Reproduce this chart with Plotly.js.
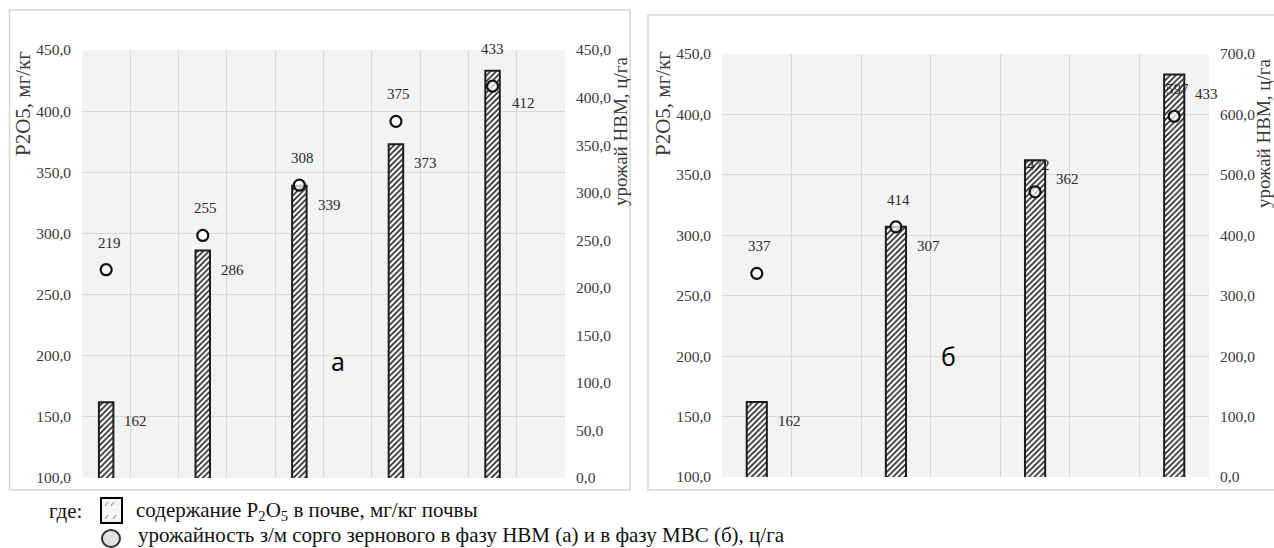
<!DOCTYPE html>
<html>
<head>
<meta charset="utf-8">
<script src="https://cdn.plot.ly/plotly-3.0.1.min.js"></script>
<style>
html,body{margin:0;padding:0;background:#fff;}
#chart{width:1274px;height:548px;}
</style>
</head>
<body>
<div id="chart"></div>
<script>
// ---- data ----
const catsA = [0, 1, 2, 3, 4];
const p2o5A = [162, 286, 339, 373, 433];
const yieldA = [219, 255, 308, 375, 412];

const catsB = [0, 1, 2, 3];
const p2o5B = [162, 307, 362, 433];
const yieldB = [337, 414, 472, 597];

const leftTitle = 'P2O5, мг/кг';
const rightTitle = 'урожай НВМ, ц/га';
const legendBar = 'содержание P<sub>2</sub>O<sub>5</sub> в почве, мг/кг почвы';
const legendDot = 'урожайность з/м сорго зернового в фазу НВМ (а) и в фазу МВС (б), ц/га';

// ---- geometry helpers ----
const W = 1274, H = 548;
const px = v => v / W;
const py = v => 1 - v / H;

const serif = 'Liberation Serif';
const tickFont = {family: serif, size: 15.5, color: '#3a3a3a'};
const lblFont = {family: serif, size: 15, color: '#2a2a2a'};
const gridC = '#d9d9d9';
const BW = 0.15;

function barTrace(x, y, xa, ya, bw) {
  return {
    type: 'bar', x: x, y: y, xaxis: xa, yaxis: ya, width: bw, base: 0,
    marker: {color: '#ffffff', line: {color: '#1e1e1e', width: 2},
      pattern: {shape: '/', fgcolor: '#222', bgcolor: '#ffffff', size: 4, solidity: 0.4}},
    showlegend: false, hoverinfo: 'skip'
  };
}
function dotTrace(x, y, xa, ya) {
  return {
    type: 'scatter', mode: 'markers', x: x, y: y, xaxis: xa, yaxis: ya,
    marker: {symbol: 'circle', size: 11, color: 'rgba(255,255,255,0.7)', line: {color: '#111', width: 2.2}},
    showlegend: false, hoverinfo: 'skip'
  };
}

const data = [
  barTrace(catsA, p2o5A, 'x', 'y', BW),
  dotTrace(catsA, yieldA, 'x', 'y2'),
  barTrace(catsB, p2o5B, 'x2', 'y3', 0.145),
  dotTrace(catsB, yieldB, 'x2', 'y4')
];

const annotations = [];
function addLabels(cats, bars, dots, xr, ybr, ydr, bw, swapLast) {
  cats.forEach((c, i) => {
    const swap = swapLast && i === cats.length - 1;
    if (!swap) {
      annotations.push({xref: xr, yref: ydr, x: c, y: dots[i], text: String(dots[i]),
        showarrow: false, xanchor: 'center', yanchor: 'middle', yshift: 27, xshift: 3, font: lblFont});
      annotations.push({xref: xr, yref: ybr, x: c + bw / 2, y: bars[i], text: String(bars[i]),
        showarrow: false, xanchor: 'left', yanchor: 'middle', xshift: 9, yshift: -19, font: lblFont});
    } else {
      annotations.push({xref: xr, yref: ybr, x: c, y: bars[i], text: String(bars[i]),
        showarrow: false, xanchor: 'center', yanchor: 'middle', yshift: 22, font: lblFont});
      annotations.push({xref: xr, yref: ydr, x: c + bw / 2, y: dots[i], text: String(dots[i]),
        showarrow: false, xanchor: 'left', yanchor: 'middle', xshift: 10, yshift: -17, font: lblFont});
    }
  });
}
addLabels(catsA, p2o5A, yieldA, 'x', 'y', 'y2', BW, true);
addLabels(catsB, p2o5B, yieldB, 'x2', 'y3', 'y4', 0.145, false);

const titleFont = {family: serif, size: 21, color: '#3a3a3a'};
const rTitleFont = {family: serif, size: 19, color: '#3a3a3a'};
function paperText(x, y, text, font, extra) {
  return Object.assign({xref: 'paper', yref: 'paper', x: px(x), y: py(y), text: text, showarrow: false,
    xanchor: 'center', yanchor: 'middle', font: font}, extra || {});
}
const legFont = {family: serif, size: 21, color: '#111'};
annotations.push(
  paperText(23, 104, leftTitle, titleFont, {textangle: -90}),
  paperText(621, 131, rightTitle, rTitleFont, {textangle: -90}),
  paperText(663, 104, leftTitle, titleFont, {textangle: -90}),
  paperText(1263, 133, rightTitle, rTitleFont, {textangle: -90}),
  paperText(338, 361, 'а', {family: 'Open Sans', size: 25, color: '#000'}),
  paperText(948, 356, 'б', {family: 'Open Sans', size: 25, color: '#000'}),
  paperText(47, 511, 'где:', legFont, {xanchor: 'left'}),
  paperText(134, 511, legendBar, legFont, {xanchor: 'left'}),
  paperText(136, 535, legendDot, legFont, {xanchor: 'left'})
);

const shapes = [
  // panel borders
  {type: 'rect', xref: 'paper', yref: 'paper', x0: px(9.5), x1: px(630), y0: py(490), y1: py(10), line: {color: '#d6d6d6', width: 1.5}, layer: 'below'},
  {type: 'rect', xref: 'paper', yref: 'paper', x0: px(648), x1: px(1280), y0: py(490), y1: py(15), line: {color: '#d6d6d6', width: 1.5}, layer: 'below'},
  // legend icons
  {type: 'rect', xref: 'paper', yref: 'paper', x0: px(101), x1: px(122), y0: py(523), y1: py(498), fillcolor: '#f4f4f4', line: {color: '#000', width: 2}},
  {type: 'line', xref: 'paper', yref: 'paper', x0: px(105), x1: px(108), y0: py(506), y1: py(502), line: {color: '#888', width: 1}},
  {type: 'line', xref: 'paper', yref: 'paper', x0: px(111), x1: px(114), y0: py(506), y1: py(502), line: {color: '#888', width: 1}},
  {type: 'line', xref: 'paper', yref: 'paper', x0: px(105), x1: px(108), y0: py(519), y1: py(515), line: {color: '#888', width: 1}},
  {type: 'line', xref: 'paper', yref: 'paper', x0: px(113), x1: px(116), y0: py(519), y1: py(515), line: {color: '#888', width: 1}},
  {type: 'circle', xref: 'paper', yref: 'paper', x0: px(102), x1: px(120), y0: py(547), y1: py(530), fillcolor: '#e2e2e2', line: {color: '#333', width: 2}}
];

const layout = {
  width: W, height: H,
  margin: {l: 0, r: 0, t: 0, b: 0},
  paper_bgcolor: '#ffffff',
  plot_bgcolor: '#f3f3f3',
  separators: ', ',
  showlegend: false,
  bargap: 0,
  xaxis: {domain: [px(82), px(565)], range: [-0.25, 4.75], tick0: -0.25, dtick: 0.5,
    showticklabels: false, ticks: '', showgrid: true, gridcolor: gridC, gridwidth: 1, zeroline: false,
    showline: false, anchor: 'y', fixedrange: true},
  yaxis: {domain: [py(478), py(50)], range: [100, 450], dtick: 50, tickformat: '.1f',
    tickfont: tickFont, showgrid: true, gridcolor: gridC, zeroline: false, showline: false,
    ticks: '', ticklabelstandoff: 10, anchor: 'x'},
  yaxis2: {overlaying: 'y', side: 'right', anchor: 'x', range: [0, 450], dtick: 50, tickformat: '.1f',
    tickfont: tickFont, showgrid: false, zeroline: false, showline: false, ticks: '', ticklabelstandoff: 10},
  xaxis2: {domain: [px(722), px(1209)], range: [-0.25, 3.25], tick0: -0.25, dtick: 0.5,
    showticklabels: false, ticks: '', showgrid: true, gridcolor: gridC, gridwidth: 1, zeroline: false,
    showline: false, anchor: 'y3'},
  yaxis3: {domain: [py(477), py(54)], range: [100, 450], dtick: 50, tickformat: '.1f',
    tickfont: tickFont, showgrid: true, gridcolor: gridC, zeroline: false, showline: false,
    ticks: '', ticklabelstandoff: 10, anchor: 'x2'},
  yaxis4: {overlaying: 'y3', side: 'right', anchor: 'x2', range: [0, 700], dtick: 100, tickformat: '.1f',
    tickfont: tickFont, showgrid: false, zeroline: false, showline: false, ticks: '', ticklabelstandoff: 10},
  annotations: annotations,
  shapes: shapes
};

Plotly.newPlot('chart', data, layout, {displayModeBar: false, staticPlot: true});
</script>
</body>
</html>
